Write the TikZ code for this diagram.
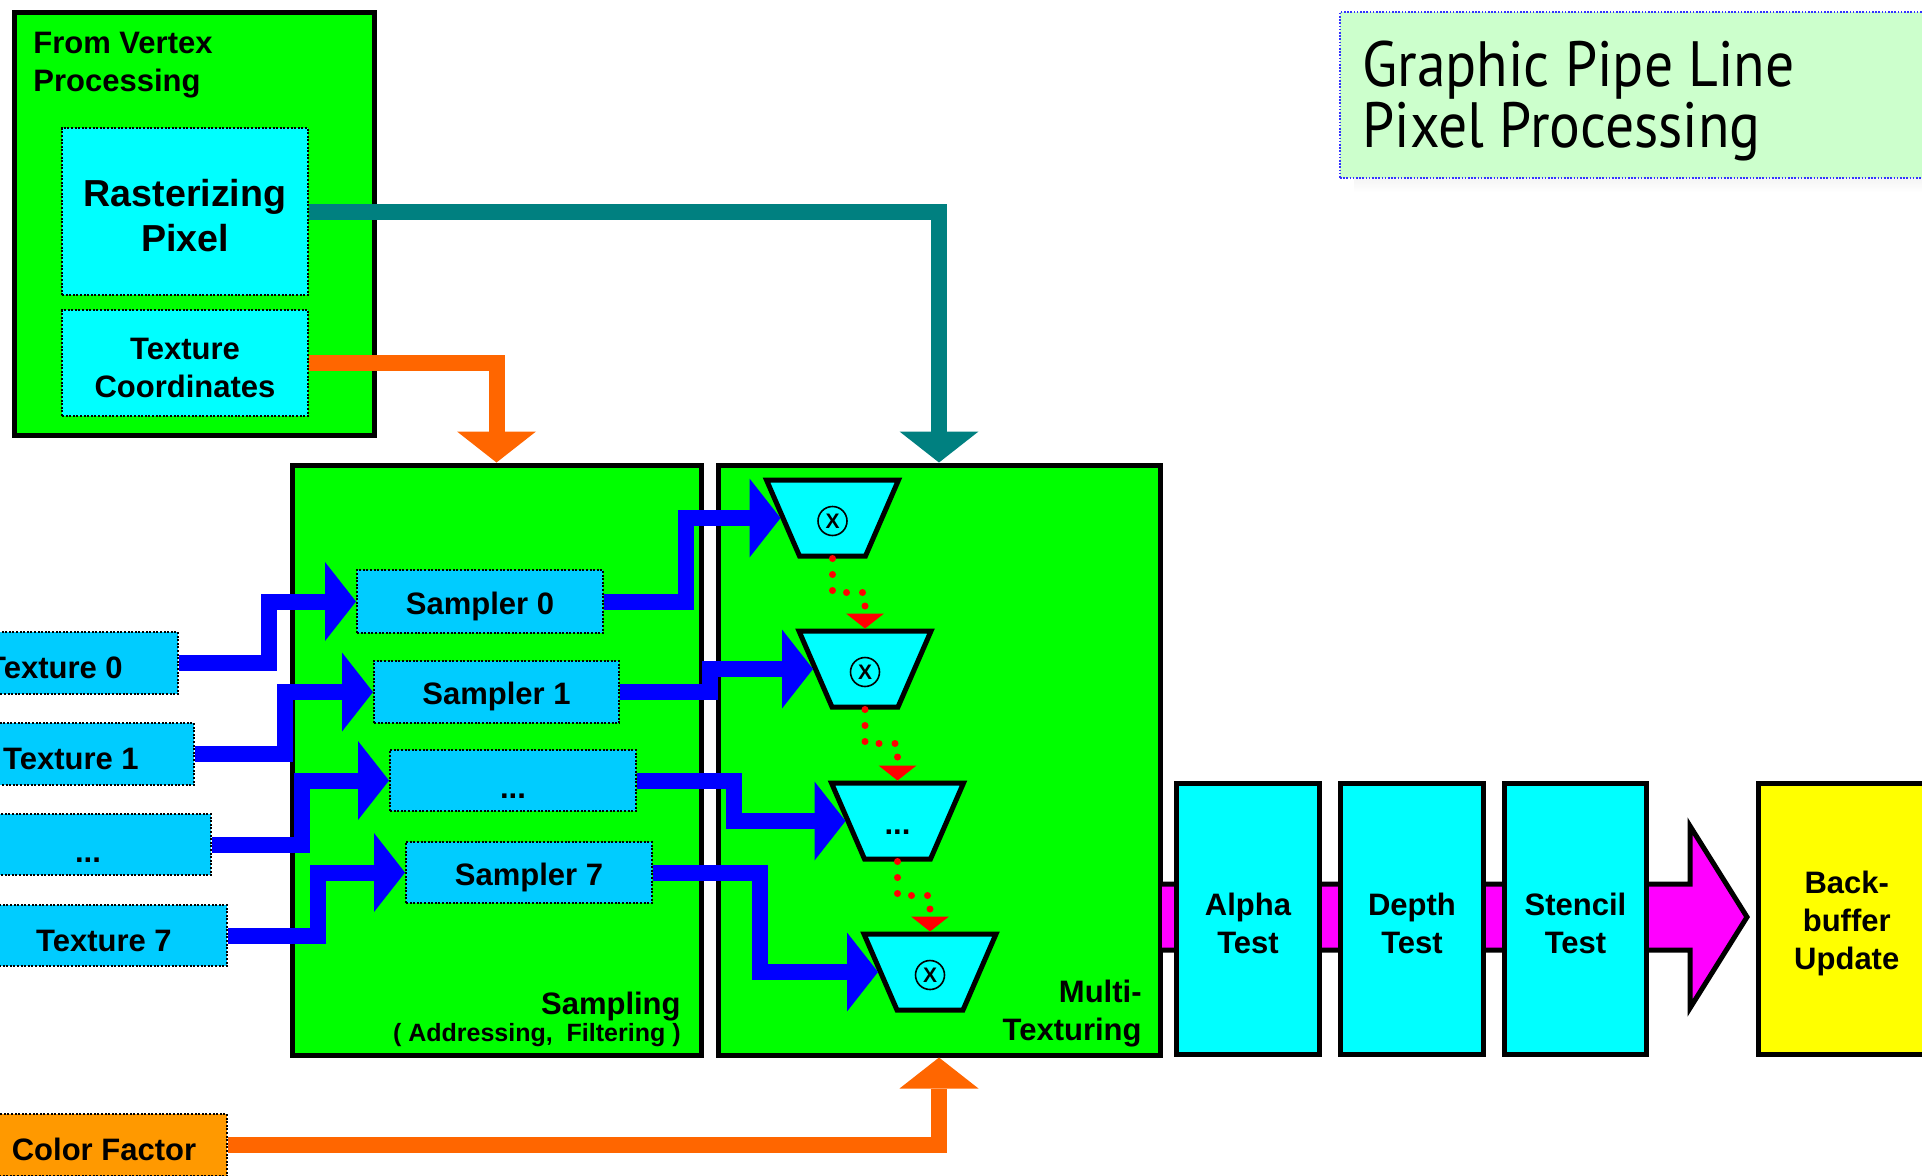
\documentclass[tikz,border=0pt]{standalone}
\usepackage{fontspec}
\setmainfont{Liberation Sans}
\newfontfamily\titlefont[FakeStretch=0.9]{PT Sans}
\usetikzlibrary{arrows.meta,fit,calc}
\definecolor{vgreen}{HTML}{00FF00}
\definecolor{vcyan}{HTML}{00FFFF}
\definecolor{sky}{HTML}{00CCFF}
\definecolor{orng}{HTML}{FF6600}
\definecolor{cfac}{HTML}{FF9900}
\definecolor{tealc}{HTML}{008080}
\definecolor{blu}{HTML}{0000FF}
\definecolor{mag}{HTML}{FF00FF}
\definecolor{yel}{HTML}{FFFF00}
\definecolor{titlebg}{HTML}{CCFFCC}
\definecolor{shade}{HTML}{BFBFBF}
\definecolor{titleborder}{HTML}{3333FF}
\newcommand\hs{\rule{0pt}{15.8pt}}
\newcommand\hsr{\rule{0pt}{17.6pt}}
\newcommand\hsd{\rule{0pt}{18pt}}
\newcommand\trapz[3]{%
  \draw[trap] (#2-66,#3-38) -- (#2+66,#3-38) -- (#2+33,#3+38) -- (#2-33,#3+38) -- cycle;
  \coordinate (#1in) at (#2-52,#3);
  \coordinate (#1top) at (#2,#3-40.5);
  \coordinate (#1bot) at (#2,#3+40.5);}
\begin{document}
\begin{tikzpicture}[x=0.5pt,y=-0.5pt,
  lbl/.style={font=\bfseries\fontsize{15.5}{19}\selectfont},
  wh/.style 2 args={minimum width=#1*0.5pt, minimum height=#2*0.5pt},
  box/.style={rectangle, inner sep=0pt, line width=2.5pt, draw=black, align=center, lbl},
  greenbox/.style={box, fill=vgreen},
  testbox/.style={box, fill=vcyan, wh={143}{271}},
  dotbox/.style={rectangle, inner sep=0pt, draw=black, line width=1pt, dash pattern=on 1pt off 0.8pt, align=center, lbl},
  cyanbox/.style={dotbox, fill=vcyan},
  skybox/.style={dotbox, fill=sky},
  fat/.style={line width=8pt, -{Triangle[width=39.5pt,length=15.5pt,line width=0pt]}},
  bluearrow/.style={fat, draw=blu},
  tealarrow/.style={fat, draw=tealc},
  orangearrow/.style={fat, draw=orng},
  reddot/.style={draw=red, line width=3.5pt, line cap=round, dash pattern=on 0pt off 8pt, -{Triangle[width=19pt,length=7.5pt,line width=0pt]}},
  trap/.style={draw=black, line width=2.5pt, fill=vcyan, line join=miter},
  otimes/.style={circle, draw=black, line width=0.8pt, minimum size=14.5pt, inner sep=0pt, font=\bfseries\fontsize{10.5}{12}\selectfont}
]
\useasboundingbox (0,0) rectangle (1922,1175);
\clip (0,0) rectangle (1922,1175);

% title
\fill[shade] (1354,26) rectangle (1950,192);
\node[fit={(1340,12) (1935,178)}, inner sep=0pt, fill=titlebg, draw=titleborder, line width=0.8pt, dash pattern=on 0.8pt off 0.8pt] (titlebox) {};
\node[anchor=north west, inner sep=0pt, align=left, font=\titlefont\fontsize{32}{30.5}\selectfont] (title) at (1362,41) {Graphic Pipe Line\\Pixel Processing};

% vertex processing
\node[greenbox, fit={(14,12) (374,435)}] (vtx) {};
\node[anchor=north west, inner sep=0pt, align=left, lbl] (vtxlabel) at (33,32) {From Vertex\\Processing};
\node[cyanbox, wh={246}{167}, font=\bfseries\fontsize{18.8}{22.5}\selectfont] (rast) at (185,211.5) {\hsr Rasterizing\\Pixel};
\node[cyanbox, wh={246}{106}] (texc) at (185,363) {\hs Texture\\Coordinates};

% main blocks
\node[greenbox, fit={(292,465) (701,1055)}] (samp) {};
\node[greenbox, fit={(718,465) (1160,1055)}] (multi) {};
\node[anchor=south east, inner sep=0pt, align=right, font=\bfseries] (samplabel) at (681,1047) {\fontsize{15.5}{19}\selectfont Sampling\\\fontsize{12.5}{15}\selectfont ( Addressing,~ Filtering )};
\node[anchor=south east, inner sep=0pt, align=right, lbl] (multilabel) at (1142,1047) {Multi-\\Texturing};

% magenta pipe arrow
\fill[mag] (1162,884) -- (1690,884) -- (1690,826) -- (1747,917) -- (1690,1008) -- (1690,950) -- (1162,950) -- cycle;
\draw[line width=2.5pt, line join=miter] (1162,884) -- (1690,884) -- (1690,826) -- (1747,917) -- (1690,1008) -- (1690,950) -- (1162,950);

% tests
\node[testbox] (alpha) at (1248,919) {\hs Alpha\\Test};
\node[testbox] (depth) at (1412,919) {\hs Depth\\Test};
\node[testbox, wh={142}{271}] (stencil) at (1575.5,919) {\hs Stencil\\Test};
\node[box, fill=yel, wh={176.5}{271}] (bb) at (1846.75,919) {\hs Back-\\buffer\\Update};

% samplers
\node[skybox, wh={246}{63}] (s0) at (480,601.5) {\hs Sampler 0};
\node[skybox, wh={245}{62}] (s1) at (496.5,692) {\hs Sampler 1};
\node[skybox, wh={246}{61}] (sd) at (513,780.5) {\hsd ...};
\node[skybox, wh={246}{61}] (s7) at (529,872.5) {\hs Sampler 7};

% textures
\node[skybox, wh={246}{62}] (t0) at (55,663) {\hs Texture 0};
\node[skybox, wh={246}{62}] (t1) at (71,754) {\hs Texture 1};
\node[skybox, wh={246}{61}] (td) at (88,844.5) {\hsd ...};
\node[skybox, wh={246}{61}] (t7) at (104,935.5) {\hs Texture 7};
\node[dotbox, fill=cfac, wh={246}{62}] (cf) at (104,1145) {\hs Color Factor};

% texture -> sampler
\draw[bluearrow] (t0.east) -- ++(90,0) |- (s0.west);
\draw[bluearrow] (t1.east) -- ++(90,0) |- (s1.west);
\draw[bluearrow] (td.east) -- ++(90,0) |- (sd.west);
\draw[bluearrow] (t7.east) -- ++(90,0) |- (s7.west);

% multipliers
\trapz{m1}{832.5}{518}
\trapz{m2}{865}{669}
\trapz{m3}{897.5}{821}
\trapz{m4}{930}{972}
\node[otimes] (x1) at (832.5,521) {X};
\node[otimes] (x2) at (865,672) {X};
\node[inner sep=0pt, lbl] (x3) at (897.5,832) {...};
\node[otimes] (x4) at (930,975) {X};

% sampler -> multiplier
\draw[bluearrow] (s0.east) -- ++(82,0) |- (m1in);
\draw[bluearrow] (s1.east) -- ++(90,0) |- (m2in);
\draw[bluearrow] (sd.east) -- ++(97,0) |- (m3in);
\draw[bluearrow] (s7.east) -- ++(107,0) |- (m4in);

% chain
\draw[reddot] (m1bot) -- ++(0,34) -| (m2top);
\draw[reddot] (m2bot) -- ++(0,34) -| (m3top);
\draw[reddot] (m3bot) -- ++(0,34) -| (m4top);

% feeds
\draw[tealarrow] (rast.east) -| (multi.north);
\draw[orangearrow] (texc.east) -| (samp.north);
\draw[orangearrow] (cf.east) -| (multi.south);
\end{tikzpicture}
\end{document}
